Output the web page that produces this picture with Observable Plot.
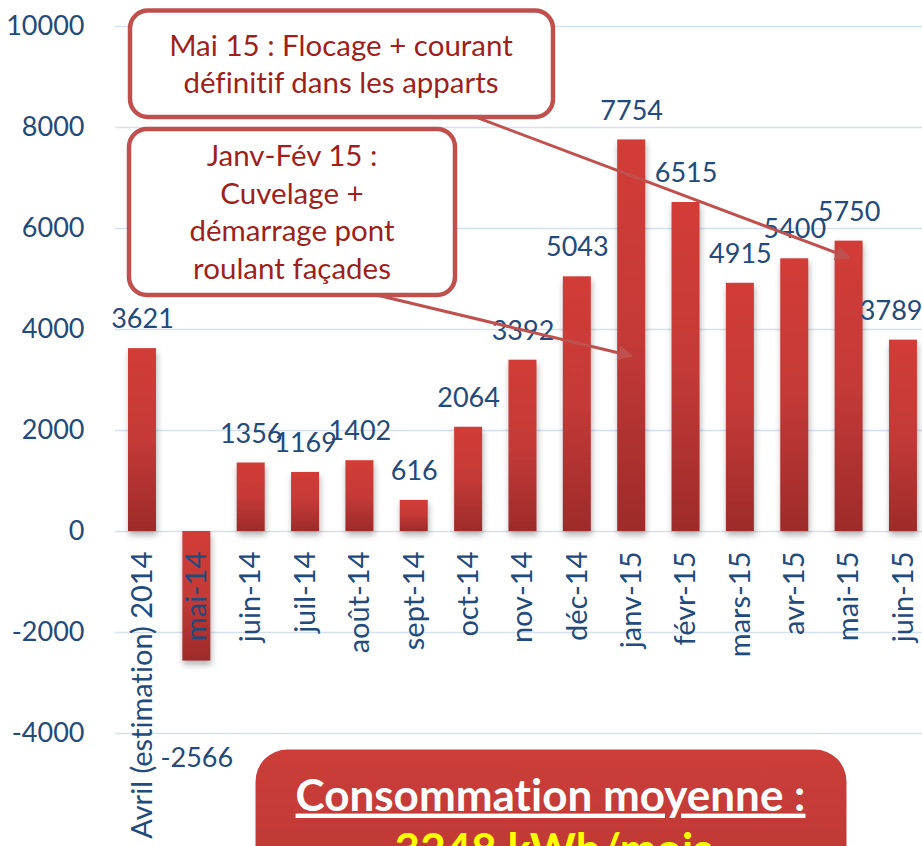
<!DOCTYPE html>
<html><head><meta charset="utf-8">
<script src="https://cdn.jsdelivr.net/npm/d3@7"></script>
<script src="https://cdn.jsdelivr.net/npm/@observablehq/plot@0.6"></script>
<style>
html,body{margin:0;padding:0;background:#fff;overflow:hidden;}
#chart svg{overflow:hidden;display:block;font-variant-ligatures:none;}
</style></head><body><div id="chart"></div>
<script>
const months = ["Avril (estimation) 2014","mai-14","juin-14","juil-14","août-14","sept-14","oct-14","nov-14","déc-14","janv-15","févr-15","mars-15","avr-15","mai-15","juin-15"];
const consumption = [3621,-2566,1356,1169,1402,616,2064,3392,5043,7754,6515,4915,5400,5750,3789];
const yTicks = [-4000,-2000,0,2000,4000,6000,8000,10000];
const noteMai = ["Mai 15 : Flocage + courant","définitif dans les apparts"];
const noteJanv = ["Janv-Fév 15 :","Cuvelage +","démarrage pont","roulant façades"];
const summaryTitle = "Consommation moyenne :";
const summaryValue = "3248 kWh/mois";

const data = months.map((m, i) => ({month: m, value: consumption[i]}));
const lastIndex = data.length - 1;

const blue = "#224a7b", darkRed = "#9e1f1b", border = "#c0504d";

const plot = Plot.plot({
  width: 922, height: 846,
  marginLeft: 115, marginRight: 0, marginTop: 0, marginBottom: 0,
  style: {fontFamily: "Lato, sans-serif", fontSize: "27px", background: "white", overflow: "hidden"},
  x: {domain: months, paddingInner: 0.485, paddingOuter: 0.166, align: 0.72, round: false, axis: null},
  y: {domain: [-6238, 10515], axis: null},
  marks: [
    Plot.ruleY(yTicks, {stroke: "#d5e0f0", strokeWidth: 1.5}),
    Plot.text(yTicks, {y: d => d, text: d => String(d), frameAnchor: "left", textAnchor: "end", dx: -31, fill: blue}),
    Plot.barY(data, {x: "month", y: "value", fill: "url(#barGrad)"}),
    Plot.text(data.filter((d, i) => d.value >= 0 && i < lastIndex), {x: "month", y: "value", text: d => String(d.value), dy: -29, fill: blue}),
    Plot.text(data.filter((d, i) => i === lastIndex), {x: "month", y: "value", text: d => String(d.value), dy: -29, dx: 19, textAnchor: "end", fill: blue}),
    Plot.text(data.filter(d => d.value < 0), {x: "month", y: "value", text: d => String(d.value), dy: 97, fill: blue}),
    Plot.text(data, {x: "month", y: () => 0, text: "month", rotate: -90, textAnchor: "end", lineAnchor: "middle", dy: 20, fontSize: 29, fill: blue}),
    Plot.link([0], {x1: () => months[6], y1: () => 8259, x2: () => months[13], y2: () => 5423, stroke: border, strokeWidth: 3}),
    Plot.link([0], {x1: () => months[4], y1: () => 4761, x2: () => months[9], y2: () => 3476, stroke: border, strokeWidth: 3}),
    Plot.frame({insetLeft: 14.5, insetRight: 369.5, insetTop: 10, insetBottom: 729.5, rx: 18, fill: "white", stroke: border, strokeWidth: 4.5}),
    Plot.text([noteMai.join("\n")], {text: d => d, frameAnchor: "top-left", textAnchor: "middle", lineAnchor: "middle", dx: 225.5, dy: 62, fontSize: 29.5, lineHeight: 1.27, fill: darkRed}),
    Plot.frame({insetLeft: 13.5, insetRight: 467.5, insetTop: 128.5, insetBottom: 551.5, rx: 18, fill: "white", stroke: border, strokeWidth: 4.5}),
    Plot.text([noteJanv.join("\n")], {text: d => d, frameAnchor: "top-left", textAnchor: "middle", lineAnchor: "middle", dx: 176.5, dy: 210, fontSize: 29.5, lineHeight: 1.27, fill: darkRed}),
    Plot.frame({insetLeft: 140, insetRight: 76, insetTop: 749, insetBottom: -60, rx: 32, fill: "url(#sumGrad)", stroke: "none"}),
    Plot.text([summaryTitle], {text: d => d, frameAnchor: "top-left", textAnchor: "middle", lineAnchor: "middle", dx: 435, dy: 796, fontSize: 44, fontWeight: "bold", fill: "white"}),
    Plot.text([summaryValue], {text: d => d, frameAnchor: "top-left", textAnchor: "middle", lineAnchor: "middle", dx: 438, dy: 850, fontSize: 44, fontWeight: "bold", fill: "#ffff00"})
  ]
});

const svg = d3.select(plot);
const defs = svg.insert("defs", ":first-child");
const g1 = defs.append("linearGradient").attr("id", "barGrad").attr("x1", 0).attr("y1", 0).attr("x2", 0).attr("y2", 1);
g1.append("stop").attr("offset", 0).attr("stop-color", "#d23c37");
g1.append("stop").attr("offset", 0.5).attr("stop-color", "#c43a37");
g1.append("stop").attr("offset", 1).attr("stop-color", "#9d2b2a");
const g2 = defs.append("linearGradient").attr("id", "sumGrad").attr("x1", 0).attr("y1", 0).attr("x2", 0).attr("y2", 1);
g2.append("stop").attr("offset", 0).attr("stop-color", "#cc3e3a");
g2.append("stop").attr("offset", 1).attr("stop-color", "#b93734");
defs.append("marker").attr("id", "tri").attr("viewBox", "0 0 10 10").attr("refX", 9).attr("refY", 5)
  .attr("markerWidth", 18).attr("markerHeight", 15).attr("markerUnits", "userSpaceOnUse").attr("orient", "auto")
  .append("path").attr("d", "M0,0L10,5L0,10Z").attr("fill", border);
svg.selectAll('g[aria-label="bar"]').style("filter", "drop-shadow(1px 4px 3px rgba(0,0,0,0.3))");
svg.selectAll('g[aria-label="link"] path').attr("marker-end", "url(#tri)");
svg.selectAll('g[aria-label="frame"]').filter((d, i, n) => i === n.length - 1).style("filter", "drop-shadow(0px 2px 4px rgba(0,0,0,0.3))");
svg.selectAll('g[aria-label="text"] text').filter(function() { return this.textContent === summaryTitle; })
  .style("text-decoration", "underline").style("text-decoration-thickness", "3px").style("text-underline-offset", "5px");

document.getElementById("chart").appendChild(plot);
</script></body></html>
